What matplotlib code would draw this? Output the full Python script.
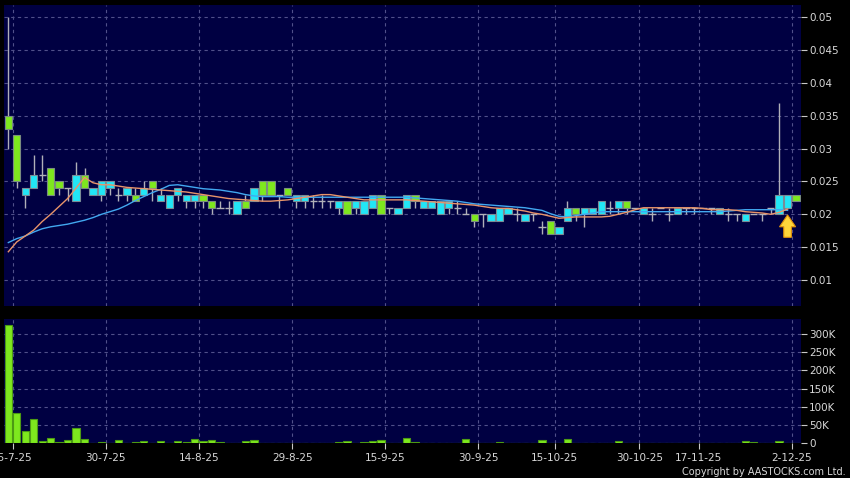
import numpy as np
import matplotlib
matplotlib.use("Agg")
import matplotlib.pyplot as plt
from matplotlib.patches import FancyArrow
from matplotlib.ticker import FuncFormatter

# daily candles (price in HKD), one entry per trading day
opens = [0.035, 0.032, 0.023, 0.024, 0.026, 0.027, 0.025, 0.024, 0.022, 0.026,
         0.023, 0.023, 0.024, 0.023, 0.023, 0.023, 0.023, 0.025, 0.022, 0.021,
         0.023, 0.022, 0.022, 0.023, 0.022, 0.021, 0.021, 0.020, 0.022, 0.022,
         0.025, 0.025, 0.023, 0.024, 0.022, 0.022, 0.022, 0.022, 0.022, 0.021,
         0.022, 0.021, 0.020, 0.021, 0.023, 0.021, 0.020, 0.021, 0.023, 0.021,
         0.021, 0.020, 0.021, 0.021, 0.020, 0.020, 0.020, 0.019, 0.019, 0.020,
         0.020, 0.019, 0.020, 0.018, 0.019, 0.017, 0.019, 0.021, 0.020, 0.020,
         0.020, 0.021, 0.021, 0.022, 0.021, 0.020, 0.020, 0.021, 0.020, 0.020,
         0.021, 0.021, 0.021, 0.021, 0.020, 0.020, 0.020, 0.019, 0.020, 0.020,
         0.021, 0.020, 0.021, 0.023]
highs = [0.050, 0.032, 0.024, 0.029, 0.029, 0.027, 0.025, 0.024, 0.028, 0.027,
         0.024, 0.025, 0.025, 0.024, 0.024, 0.024, 0.025, 0.025, 0.024, 0.023,
         0.024, 0.023, 0.023, 0.023, 0.022, 0.022, 0.022, 0.022, 0.023, 0.024,
         0.025, 0.025, 0.023, 0.024, 0.023, 0.023, 0.023, 0.023, 0.022, 0.022,
         0.022, 0.022, 0.022, 0.023, 0.023, 0.021, 0.021, 0.023, 0.023, 0.022,
         0.022, 0.022, 0.022, 0.022, 0.021, 0.020, 0.020, 0.020, 0.021, 0.021,
         0.021, 0.020, 0.020, 0.019, 0.019, 0.018, 0.022, 0.021, 0.021, 0.021,
         0.022, 0.022, 0.022, 0.022, 0.021, 0.021, 0.021, 0.021, 0.021, 0.021,
         0.021, 0.021, 0.021, 0.021, 0.021, 0.021, 0.020, 0.020, 0.020, 0.020,
         0.021, 0.037, 0.023, 0.023]
lows = [0.030, 0.024, 0.021, 0.024, 0.025, 0.023, 0.023, 0.022, 0.022, 0.024,
        0.023, 0.022, 0.023, 0.022, 0.022, 0.022, 0.023, 0.022, 0.022, 0.021,
        0.022, 0.021, 0.021, 0.021, 0.020, 0.021, 0.020, 0.020, 0.021, 0.022,
        0.022, 0.023, 0.021, 0.023, 0.021, 0.021, 0.021, 0.021, 0.021, 0.020,
        0.020, 0.020, 0.020, 0.021, 0.020, 0.020, 0.020, 0.021, 0.021, 0.021,
        0.021, 0.020, 0.020, 0.020, 0.020, 0.018, 0.018, 0.019, 0.019, 0.020,
        0.019, 0.019, 0.019, 0.017, 0.017, 0.017, 0.019, 0.019, 0.018, 0.020,
        0.020, 0.020, 0.020, 0.020, 0.021, 0.020, 0.019, 0.021, 0.019, 0.020,
        0.020, 0.020, 0.021, 0.020, 0.020, 0.019, 0.019, 0.019, 0.020, 0.019,
        0.020, 0.020, 0.021, 0.022]
closes = [0.033, 0.025, 0.024, 0.026, 0.026, 0.023, 0.024, 0.024, 0.026, 0.024,
          0.024, 0.025, 0.025, 0.023, 0.024, 0.022, 0.024, 0.024, 0.023, 0.023,
          0.024, 0.023, 0.023, 0.022, 0.021, 0.021, 0.021, 0.022, 0.021, 0.024,
          0.023, 0.023, 0.023, 0.023, 0.023, 0.023, 0.022, 0.022, 0.022, 0.022,
          0.020, 0.022, 0.022, 0.023, 0.020, 0.021, 0.021, 0.023, 0.022, 0.022,
          0.022, 0.022, 0.022, 0.021, 0.020, 0.019, 0.020, 0.020, 0.021, 0.021,
          0.020, 0.020, 0.020, 0.018, 0.017, 0.018, 0.021, 0.020, 0.021, 0.021,
          0.022, 0.021, 0.022, 0.021, 0.021, 0.021, 0.020, 0.021, 0.020, 0.021,
          0.021, 0.021, 0.021, 0.021, 0.021, 0.020, 0.020, 0.020, 0.020, 0.020,
          0.021, 0.023, 0.023, 0.022]

# moving averages as drawn (short = orange, long = blue)
ma_short = [0.0143, 0.0158, 0.0167, 0.0176, 0.0189, 0.0200, 0.0212, 0.0224, 0.0240, 0.0256,
            0.0248, 0.0245, 0.0245, 0.0243, 0.0241, 0.0240, 0.0239, 0.0238, 0.0237, 0.0236,
            0.0235, 0.0234, 0.0232, 0.0230, 0.0228, 0.0226, 0.0224, 0.0223, 0.0222, 0.0221,
            0.0220, 0.0220, 0.0221, 0.0222, 0.0224, 0.0226, 0.0228, 0.0230, 0.0230, 0.0228,
            0.0226, 0.0224, 0.0222, 0.0222, 0.0222, 0.0222, 0.0222, 0.0222, 0.0221, 0.0220,
            0.0219, 0.0218, 0.0217, 0.0216, 0.0215, 0.0214, 0.0212, 0.0210, 0.0209, 0.0209,
            0.0207, 0.0205, 0.0202, 0.0200, 0.0197, 0.0194, 0.0195, 0.0196, 0.0196, 0.0196,
            0.0196, 0.0197, 0.0200, 0.0203, 0.0207, 0.0210, 0.0210, 0.0210, 0.0210, 0.0210,
            0.0210, 0.0210, 0.0209, 0.0207, 0.0207, 0.0207, 0.0206, 0.0204, 0.0203, 0.0202,
            0.0200, 0.0203, 0.0208, np.nan]
ma_long = [0.0157, 0.0163, 0.0167, 0.0173, 0.0178, 0.0181, 0.0183, 0.0185, 0.0188, 0.0191,
           0.0195, 0.0200, 0.0204, 0.0208, 0.0214, 0.0221, 0.0227, 0.0233, 0.0238, 0.0244,
           0.0245, 0.0243, 0.0241, 0.0239, 0.0238, 0.0237, 0.0235, 0.0233, 0.0230, 0.0228,
           0.0227, 0.0227, 0.0227, 0.0226, 0.0226, 0.0226, 0.0226, 0.0226, 0.0226, 0.0226,
           0.0226, 0.0226, 0.0226, 0.0226, 0.0226, 0.0226, 0.0226, 0.0226, 0.0225, 0.0224,
           0.0223, 0.0222, 0.0221, 0.0220, 0.0218, 0.0216, 0.0215, 0.0214, 0.0213, 0.0212,
           0.0211, 0.0210, 0.0208, 0.0206, 0.0201, 0.0197, 0.0196, 0.0198, 0.0200, 0.0202,
           0.0204, 0.0204, 0.0204, 0.0204, 0.0204, 0.0204, 0.0204, 0.0204, 0.0204, 0.0204,
           0.0204, 0.0204, 0.0204, 0.0204, 0.0204, 0.0205, 0.0206, 0.0207, 0.0207, 0.0207,
           0.0207, 0.0207, 0.0206, np.nan]

# volume in thousands of shares
volume_k = [323, 84, 35, 67, 8, 14, 5, 9, 41, 12,
            1, 3, 1, 10, 1, 4, 7, 1, 8, 0.5,
            6, 5, 12, 8, 9, 4, 1, 0.5, 6, 9,
            0.5, 2, 2, 1, 0.5, 0.5, 0.5, 0.5, 0.5, 3,
            7, 2, 3, 6, 9, 1, 0.5, 14, 3, 2,
            1, 1, 1, 0.5, 12, 2, 1, 0.5, 3, 1,
            0.5, 0.5, 0.5, 10, 1, 0.5, 12, 0.5, 1, 1,
            2, 0.5, 6, 2, 0.5, 0.5, 0.5, 0.5, 0.5, 1,
            1, 0.5, 0.5, 0.5, 0.5, 0.5, 0.5, 6, 5, 0.5,
            1, 8, 1, 1]

date_tick_idx = [0, 11, 22, 33, 44, 55, 64, 74, 81, 92]
date_tick_labels = ["15-7-25", "30-7-25", "14-8-25", "29-8-25", "15-9-25",
                    "30-9-25", "15-10-25", "30-10-25", "17-11-25", "2-12-25"]
price_ticks = [0.01, 0.015, 0.02, 0.025, 0.03, 0.035, 0.04, 0.045, 0.05]
volume_ticks_k = [0, 50, 100, 150, 200, 250, 300]

BG = "#000042"
GRID = "#50508a"
CYAN = "#22e6f6"
GREEN = "#7ee81e"
TXT = "#d8d8d8"

o = np.array(opens)
h = np.array(highs)
l = np.array(lows)
c = np.array(closes)
x = np.arange(len(o))
up = c > o
down = c < o
flat = c == o

fig = plt.figure(figsize=(8.5, 4.78), dpi=100, facecolor="black")
ax = fig.add_axes([0.0047, 0.3598, 0.9373, 0.6297])
axv = fig.add_axes([0.0047, 0.0722, 0.9373, 0.2605])

grid_x = [i + 0.5 for i in date_tick_idx]
for a in (ax, axv):
    a.set_facecolor(BG)
    for s in a.spines.values():
        s.set_visible(False)
    a.set_xlim(-0.51, 93.55)
    a.set_xticks(grid_x)
    a.grid(True, color=GRID, linestyle=(0, (3, 3)), linewidth=0.8)
    a.set_axisbelow(True)
    a.yaxis.tick_right()
    a.tick_params(axis="y", colors="#c8c8c8", labelcolor=TXT, length=4,
                  width=0.8, pad=2, labelsize=7.5)

# price panel
w = 0.86
ax.vlines(x, l, h, color="#b0b0b8", linewidth=1, zorder=2)
ax.bar(x[up], c[up] - o[up], bottom=o[up], width=w, color=CYAN,
       edgecolor="#7a8c96", linewidth=0.8, zorder=3)
ax.bar(x[down], o[down] - c[down], bottom=c[down], width=w, color=GREEN,
       edgecolor="#7a8c80", linewidth=0.8, zorder=3)
ax.hlines(o[flat], x[flat] - w / 2, x[flat] + w / 2, color="#b0b0b8",
          linewidth=1, zorder=3)
ax.plot(x, ma_long, color="#42a8f0", linewidth=1, zorder=4)
ax.plot(x, ma_short, color="#e8946a", linewidth=1, zorder=4)

# marker arrow under the latest session
ax.add_patch(FancyArrow(92, 0.0165, 0, 0.0034, width=0.9, head_width=1.9,
                        head_length=0.0018, length_includes_head=True,
                        facecolor="#ffd43a", edgecolor="#e0900a",
                        linewidth=0.8, zorder=5))

ax.set_ylim(0.00604, 0.05186)
ax.set_yticks(price_ticks)
ax.yaxis.set_major_formatter(FuncFormatter(lambda v, p: f"{v:g}"))
ax.tick_params(axis="x", length=0, labelbottom=False)

# volume panel
axv.bar(x, volume_k, width=w, color=GREEN, edgecolor="#4c9a14",
        linewidth=0.8, zorder=3)
axv.set_ylim(0, 340)
axv.set_yticks(volume_ticks_k)
axv.yaxis.set_major_formatter(FuncFormatter(lambda v, p: f"{int(v)}K" if v else "0"))
axv.set_xticklabels(date_tick_labels)
axv.tick_params(axis="x", colors="#c8c8c8", labelcolor=TXT, length=4,
                width=0.8, pad=3, labelsize=7.5)

fig.text(0.9945, 0.003, "Copyright by AASTOCKS.com Ltd.", color=TXT,
         fontsize=7, ha="right", va="bottom")

fig.savefig("out.png", dpi=100, facecolor="black")
